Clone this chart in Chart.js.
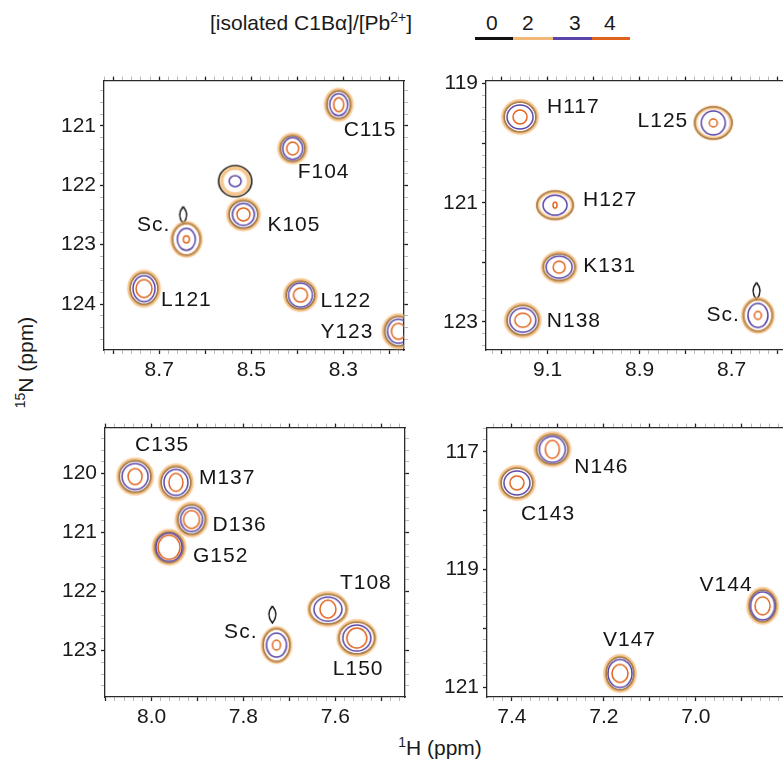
<!DOCTYPE html>
<html lang="en">
<head>
<meta charset="UTF-8">
<title>C1Bα / Pb2+ titration, 1H-15N HSQC</title>
<script src="https://cdn.jsdelivr.net/npm/chart.js@4.4.1/dist/chart.umd.min.js"></script>
<style>
    body {
        margin: 0;
        width: 783px;
        height: 765px;
        overflow: hidden;
        position: relative;
        background: #fff;
        font-family: "Liberation Sans", Arial, sans-serif;
        color: #1a1a1a;
    }
    canvas.panel { position: absolute; }
    .txt { position: absolute; font-size: 21px; white-space: nowrap; line-height: 1; }
    .txt sup { font-size: 14px; vertical-align: 8px; line-height: 0; }
    .key { position: absolute; height: 3px; }
</style>
</head>
<body>
    <div class="txt" style="left:210px; top:12px;">[isolated C1B&alpha;]/[Pb<sup>2+</sup>]</div>
    <div class="txt" style="left:486px; top:12px;">0</div>
    <div class="txt" style="left:522px; top:12px;">2</div>
    <div class="txt" style="left:569px; top:12px;">3</div>
    <div class="txt" style="left:604px; top:12px;">4</div>
    <div class="key" style="left:475px; top:37px; width:38px; background:#111;"></div>
    <div class="key" style="left:513px; top:37px; width:40px; background:#f2b878;"></div>
    <div class="key" style="left:553px; top:37px; width:39px; background:#5a44a6;"></div>
    <div class="key" style="left:592px; top:37px; width:38px; background:#e0631c;"></div>

    <div class="txt" style="left:-35px; top:352px; width:120px; text-align:center; transform:rotate(-90deg);"><sup>15</sup>N (ppm)</div>
    <div class="txt" style="left:380px; top:737px; width:120px; text-align:center;"><sup>1</sup>H (ppm)</div>

    <script>
        // titration points ([C1Bα]/[Pb2+]) and their contour colours
        const ratios = ['0', '2', '3', '4'];
        const ratioColors = ['#111111', 'rgba(242,176,100,0.6)', '#5a44a6', '#e0631c'];

        // assigned cross peaks: panel index, 1H and 15N shifts (ppm)
        const residues = ['C115', 'F104', '', 'K105', 'Sc.', 'L121', 'L122', 'Y123',
                          'H117', 'L125', 'H127', 'K131', 'N138', 'Sc.',
                          'C135', 'M137', 'D136', 'G152', 'T108', 'Sc.', 'L150',
                          'N146', 'C143', 'V144', 'V147'];
        const panelOf = [0, 0, 0, 0, 0, 0, 0, 0,
                         1, 1, 1, 1, 1, 1,
                         2, 2, 2, 2, 2, 2, 2,
                         3, 3, 3, 3];
        const shiftH = [8.310, 8.410, 8.535, 8.517, 8.641, 8.733, 8.393, 8.180,
                        9.160, 8.740, 9.084, 9.075, 9.154, 8.643,
                        8.036, 7.947, 7.913, 7.962, 7.616, 7.728, 7.553,
                        7.312, 7.389, 6.855, 7.165];
        const shiftN = [120.64, 121.38, 121.93, 122.49, 122.91, 123.74, 123.85, 124.46,
                        119.56, 119.66, 121.04, 122.08, 122.97, 122.89,
                        120.05, 120.15, 120.78, 121.25, 122.30, 122.91, 122.79,
                        116.96, 117.53, 119.62, 120.77];

        // side-chain satellite contour (free protein only)
        const sideChainPanel = [0, 1, 2];
        const sideChainH = [8.648, 8.646, 7.737];
        const sideChainN = [122.50, 122.48, 122.39];

        // spectral windows and labelled ticks
        const windowH = [[8.168, 8.82], [8.582, 9.234], [7.448, 8.1015], [6.802, 7.454]];
        const windowN = [[120.235, 124.775], [118.95, 123.47], [119.22, 123.79], [116.59, 121.17]];
        const labelsH = [['8.7', '8.5', '8.3'], ['9.1', '8.9', '8.7'], ['8.0', '7.8', '7.6'], ['7.4', '7.2', '7.0']];
        const labelsN = [['121', '122', '123', '124'], ['119', '121', '123'], ['120', '121', '122', '123'], ['117', '119', '121']];

        // ---- drawing setup ----
        const FONT = '"Liberation Sans", Arial, sans-serif';
        const plotOrigin = [[104, 70], [486, 70], [105, 417], [487, 417]];
        const AXIS_L = 74, AXIS_R = 6, AXIS_T = 6, AXIS_B = 40, PLOT_W = 300, PLOT_H = 280;

        // contour half-widths in px: [black, light orange, purple, orange] as [rx, ry]
        const contourPx = [
            [[12, 14], [13, 15], [9, 11], [5, 7]],
            [[12.5, 13], [13.5, 14], [10, 11], [6, 6.5]],
            [[16.5, 15.5], [13.5, 13], [6, 5.5], null],
            [[14.5, 14], [15.5, 15], [11, 11], [6.5, 6.5]],
            [[14, 16], [14.5, 16.5], [9, 11], [3, 3.5]],
            [[14, 16], [15, 17], [11, 13], [8, 9]],
            [[14.5, 14], [15.5, 15], [12, 12], [7, 7]],
            [[14, 15], [15, 16], [11, 12], [7, 8]],
            [[16, 15], [17, 16], [13, 12], [7, 7]],
            [[18.5, 16], [18, 15.5], [12, 12], [4, 4]],
            [[18, 14], [17.5, 13.5], [12, 10], [2, 3]],
            [[16, 13.5], [16.5, 14.5], [13, 11], [6, 6]],
            [[16, 15], [17, 16], [13, 12], [8, 7]],
            [[14.5, 16], [15, 16.5], [10, 12], [3.5, 4]],
            [[16, 16], [17, 17], [13, 13], [7, 8]],
            [[15, 16], [16, 17], [12, 13], [7, 9]],
            [[14, 15], [15, 16], [11, 12], [8, 9]],
            [[14.5, 15.5], [15.5, 16.5], [13, 14], [11, 12]],
            [[18.5, 15], [19, 16], [14, 12], [8, 9]],
            [[13.5, 16.5], [14, 17], [10, 12], [4, 5]],
            [[18, 16], [18.5, 17], [14, 13], [10, 10]],
            [[16, 15], [17, 16], [13, 13], [7, 9]],
            [[16, 15], [17, 16], [13, 12], [7, 7]],
            [[13.5, 16], [14.5, 17], [12, 14], [7.5, 9]],
            [[14, 16.5], [15, 17.5], [12, 14], [8, 9]]
        ];
        const ringWidth = [1.6, 3.4, 1.5, 1.5];
        const ringOrder = [4, 3, 2, 1];

        // label offsets from the peak centre in px, and text alignment
        const labelOffset = [
            [5, 26, 'left'], [5, 24, 'left'], null, [24, 11, 'left'], [-16, -14, 'right'],
            [17, 12, 'left'], [20, 6, 'left'], [-25, 1, 'right'],
            [27, -10, 'left'], [-25, -2, 'right'], [28, -5, 'left'], [24, -1, 'left'],
            [24, 1, 'left'], [-18, 0, 'right'],
            [0, -31, 'left'], [23, -4, 'left'], [21, 6, 'left'], [24, 9, 'left'],
            [12, -26, 'left'], [-19, -13, 'right'], [-24, 31, 'left'],
            [22, 18, 'left'], [4, 31, 'left'], [-10, -21, 'right'], [-17, -33, 'left']
        ];

        const ringCache = {};
        function ringImage(rx, ry, color, width, lens) {
            const key = [rx, ry, color, width, lens].join('|');
            if (ringCache[key]) return ringCache[key];
            const pad = Math.ceil(width + 3);
            const c = document.createElement('canvas');
            c.width = Math.round(2 * rx + 2 * pad);
            c.height = Math.round(2 * ry + 2 * pad);
            const g = c.getContext('2d');
            const cx = c.width / 2, cy = c.height / 2;
            g.strokeStyle = color;
            g.lineWidth = width;
            if (width > 2) {
                g.shadowColor = color;
                g.shadowBlur = 2;
            }
            g.beginPath();
            if (lens) {
                g.moveTo(cx, cy - ry);
                g.quadraticCurveTo(cx + rx * 2, cy, cx, cy + ry);
                g.quadraticCurveTo(cx - rx * 2, cy, cx, cy - ry);
            } else {
                g.ellipse(cx, cy, rx, ry, 0, 0, Math.PI * 2);
            }
            g.stroke();
            ringCache[key] = c;
            return c;
        }

        function buildTicks(lo, hi, step) {
            const out = [];
            for (let i = Math.ceil(lo / step - 1e-9); i <= Math.floor(hi / step + 1e-9); i++) {
                out.push({ value: +(i * step).toFixed(4) });
            }
            return out;
        }

        function isMajor(v, every) {
            const k = v / every;
            return Math.abs(k - Math.round(k)) < 1e-6;
        }

        // residue names next to their peaks
        const peakLabels = {
            id: 'peakLabels',
            afterDatasetsDraw(chart, args, opts) {
                const ctx = chart.ctx;
                const xs = chart.scales.x, ys = chart.scales.y;
                ctx.save();
                ctx.fillStyle = '#151515';
                ctx.font = '21px ' + FONT;
                ctx.letterSpacing = '1px';
                ctx.textBaseline = 'middle';
                residues.forEach((name, i) => {
                    if (panelOf[i] !== opts.panel || !labelOffset[i]) return;
                    const [dx, dy, align] = labelOffset[i];
                    ctx.textAlign = align;
                    ctx.fillText(name, xs.getPixelForValue(shiftH[i]) + dx, ys.getPixelForValue(shiftN[i]) + dy);
                });
                ctx.restore();
            }
        };

        function axisGrid(everyMajor) {
            return {
                drawOnChartArea: false,
                tickLength: 4,
                tickColor: c => (c.tick && isMajor(c.tick.value, everyMajor)) ? '#222' : '#9a9a9a',
                tickWidth: c => (c.tick && isMajor(c.tick.value, everyMajor)) ? 1.3 : 0.7
            };
        }

        function makePanel(p) {
            const [ox, oy] = plotOrigin[p];
            const canvas = document.createElement('canvas');
            canvas.className = 'panel';
            canvas.width = AXIS_L + PLOT_W + AXIS_R;
            canvas.height = AXIS_T + PLOT_H + AXIS_B;
            canvas.style.left = (ox - AXIS_L) + 'px';
            canvas.style.top = (oy - AXIS_T) + 'px';
            document.body.appendChild(canvas);

            const [hLo, hHi] = windowH[p];
            const [nLo, nHi] = windowN[p];
            const hTicks = () => buildTicks(hLo, hHi, 0.02);
            const nTicks = () => buildTicks(nLo, nHi, 0.2);
            const border = { color: '#2a2a2a', width: 1.3 };
            const tickFont = { family: FONT, size: 21 };

            const datasets = [];
            ratios.forEach((r, s) => {
                const pts = [];
                residues.forEach((name, i) => {
                    if (panelOf[i] === p && contourPx[i][s]) {
                        pts.push({ x: shiftH[i], y: shiftN[i], k: i });
                    }
                });
                datasets.push({
                    label: r,
                    data: pts,
                    order: ringOrder[s],
                    clip: 0,
                    pointRadius: 3,
                    pointStyle: c => {
                        if (!c.raw) return 'circle';
                        const [rx, ry] = contourPx[c.raw.k][s];
                        return ringImage(rx, ry, ratioColors[s], ringWidth[s], false);
                    }
                });
            });
            const side = [];
            sideChainPanel.forEach((pp, j) => {
                if (pp === p) side.push({ x: sideChainH[j], y: sideChainN[j] });
            });
            datasets.push({
                label: 'side chain',
                data: side,
                order: 4,
                clip: 0,
                pointRadius: 3,
                pointStyle: ringImage(3.5, 8.5, ratioColors[0], 1.5, true)
            });

            new Chart(canvas, {
                type: 'scatter',
                data: { datasets },
                options: {
                    responsive: false,
                    animation: false,
                    events: [],
                    layout: { padding: 0 },
                    plugins: {
                        legend: { display: false },
                        tooltip: { enabled: false },
                        peakLabels: { panel: p }
                    },
                    scales: {
                        x: {
                            type: 'linear', position: 'bottom', reverse: true, min: hLo, max: hHi,
                            afterBuildTicks: sc => { sc.ticks = hTicks(); },
                            afterFit: sc => { sc.height = AXIS_B; },
                            grid: axisGrid(0.1),
                            border,
                            ticks: {
                                autoSkip: false, maxRotation: 0, minRotation: 0, padding: 4,
                                color: '#1a1a1a', font: tickFont,
                                callback: v => labelsH[p].includes(v.toFixed(1)) && isMajor(v, 0.1) ? v.toFixed(1) : ''
                            }
                        },
                        x2: {
                            type: 'linear', position: 'top', reverse: true, min: hLo, max: hHi,
                            afterBuildTicks: sc => { sc.ticks = hTicks(); },
                            afterFit: sc => { sc.height = AXIS_T; },
                            grid: axisGrid(0.1),
                            border,
                            ticks: { display: false }
                        },
                        y: {
                            type: 'linear', position: 'left', reverse: true, min: nLo, max: nHi,
                            afterBuildTicks: sc => { sc.ticks = nTicks(); },
                            afterFit: sc => { sc.width = AXIS_L; },
                            grid: axisGrid(1),
                            border,
                            ticks: {
                                autoSkip: false, padding: 4, color: '#1a1a1a', font: tickFont,
                                callback: v => isMajor(v, 1) && labelsN[p].includes(String(Math.round(v))) ? String(Math.round(v)) : ''
                            }
                        },
                        y2: {
                            type: 'linear', position: 'right', reverse: true, min: nLo, max: nHi,
                            afterBuildTicks: sc => { sc.ticks = nTicks(); },
                            afterFit: sc => { sc.width = AXIS_R; },
                            grid: axisGrid(1),
                            border,
                            ticks: { display: false }
                        }
                    }
                },
                plugins: [peakLabels]
            });
        }

        [0, 1, 2, 3].forEach(makePanel);
    </script>
</body>
</html>
